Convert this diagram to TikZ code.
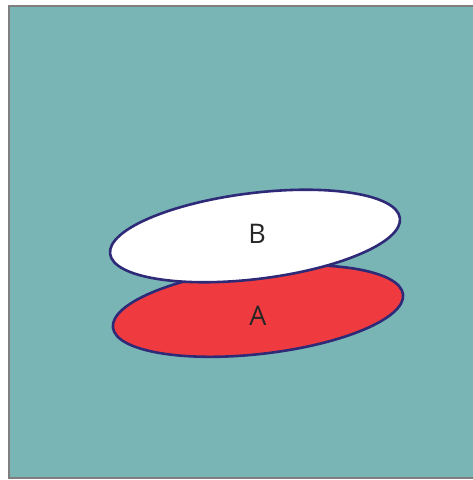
\documentclass[tikz,border=0pt]{standalone}
\usepackage{fontspec}
\setmainfont{Open Sans}
\definecolor{teal}{HTML}{79B5B5}
\definecolor{setred}{HTML}{EF3B3F}
\definecolor{setline}{HTML}{2E2A78}
\definecolor{frame}{HTML}{7F7F7F}

\begin{document}
\begin{tikzpicture}[x=1pt, y=1pt]
\useasboundingbox (0,0) rectangle (473,480);
\tikzset{setshape/.style={draw=setline, line width=2.6pt}}
\tikzset{setlabel/.style={text=black!85, font=\fontsize{27}{30}\selectfont}}

\coordinate (frameBottomLeft) at (9,2);
\coordinate (frameTopRight) at (478,474);
\draw[fill=teal, draw=frame, line width=2.5pt] (frameBottomLeft) rectangle (frameTopRight);

\coordinate (centerA) at (258,169);
\coordinate (centerB) at (255,244);

\draw[setshape, fill=setred, rotate around={6.5:(centerA)}] (centerA) ellipse [x radius=146, y radius=43];
\node[setlabel] (labelA) at ([yshift=-5pt] centerA) {A};

\draw[setshape, fill=white, rotate around={7:(centerB)}] (centerB) ellipse [x radius=146, y radius=43];
\node[setlabel] (labelB) at ([xshift=2pt, yshift=2pt] centerB) {B};

\end{tikzpicture}
\end{document}
